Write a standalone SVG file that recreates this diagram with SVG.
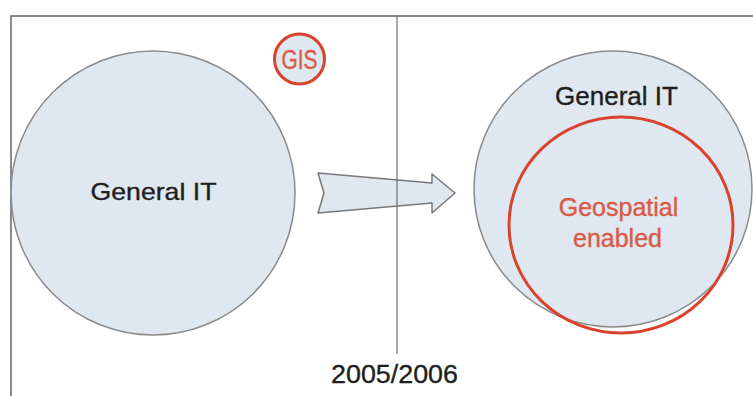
<svg xmlns="http://www.w3.org/2000/svg" width="753" height="396" viewBox="0 0 753 396">
<style>
.blob{fill:#dfe7f1;stroke:#8a8a8a;stroke-width:1.5}
.red{fill:none;stroke:#d9432c;stroke-width:3}
.t{font-family:"Liberation Sans",Arial,sans-serif;text-anchor:middle;fill:#1e1e1e;stroke:#1e1e1e;stroke-width:0.35}
.rt{font-family:"Liberation Sans",Arial,sans-serif;text-anchor:middle;fill:#d95a45;stroke:#d95a45;stroke-width:0.35}
</style>
<rect width="753" height="396" fill="#ffffff"/>
<path d="M11,396 V16 H753" fill="none" stroke="#666" stroke-width="1.5"/>
<g id="general-it-before">
<ellipse class="blob" cx="153" cy="193" rx="142" ry="142"/>
<text class="t" x="153.5" y="200" font-size="24" textLength="126" lengthAdjust="spacingAndGlyphs">General IT</text>
</g>
<g id="gis">
<circle cx="299.5" cy="59" r="25" fill="#dfe7f1" stroke="#d9432c" stroke-width="3"/>
<text class="rt" x="299.5" y="69" font-size="27" textLength="36" lengthAdjust="spacingAndGlyphs">GIS</text>
</g>
<g id="connectors">
<path d="M318,173 L432,183 L432,174 L455,193 L432,213 L432,203 L318,213 L324,193 Z" fill="#dfe7f1" stroke="#777" stroke-width="1.5" stroke-linejoin="round"/>
</g>
<line x1="397" y1="16" x2="397" y2="354" stroke="#777" stroke-width="1.3"/>
<g id="general-it-after">
<ellipse class="blob" cx="613" cy="189" rx="139" ry="138"/>
<text class="t" x="616.5" y="105" font-size="25" textLength="123" lengthAdjust="spacingAndGlyphs">General IT</text>
</g>
<g id="geospatial-enabled">
<ellipse class="red" cx="621" cy="225" rx="112" ry="108"/>
<text class="rt" x="618.5" y="216" font-size="25">Geospatial</text>
<text class="rt" x="617.5" y="247" font-size="25">enabled</text>
</g>
<text class="t" x="394.5" y="383" font-size="26" textLength="127" lengthAdjust="spacingAndGlyphs">2005/2006</text>
</svg>
